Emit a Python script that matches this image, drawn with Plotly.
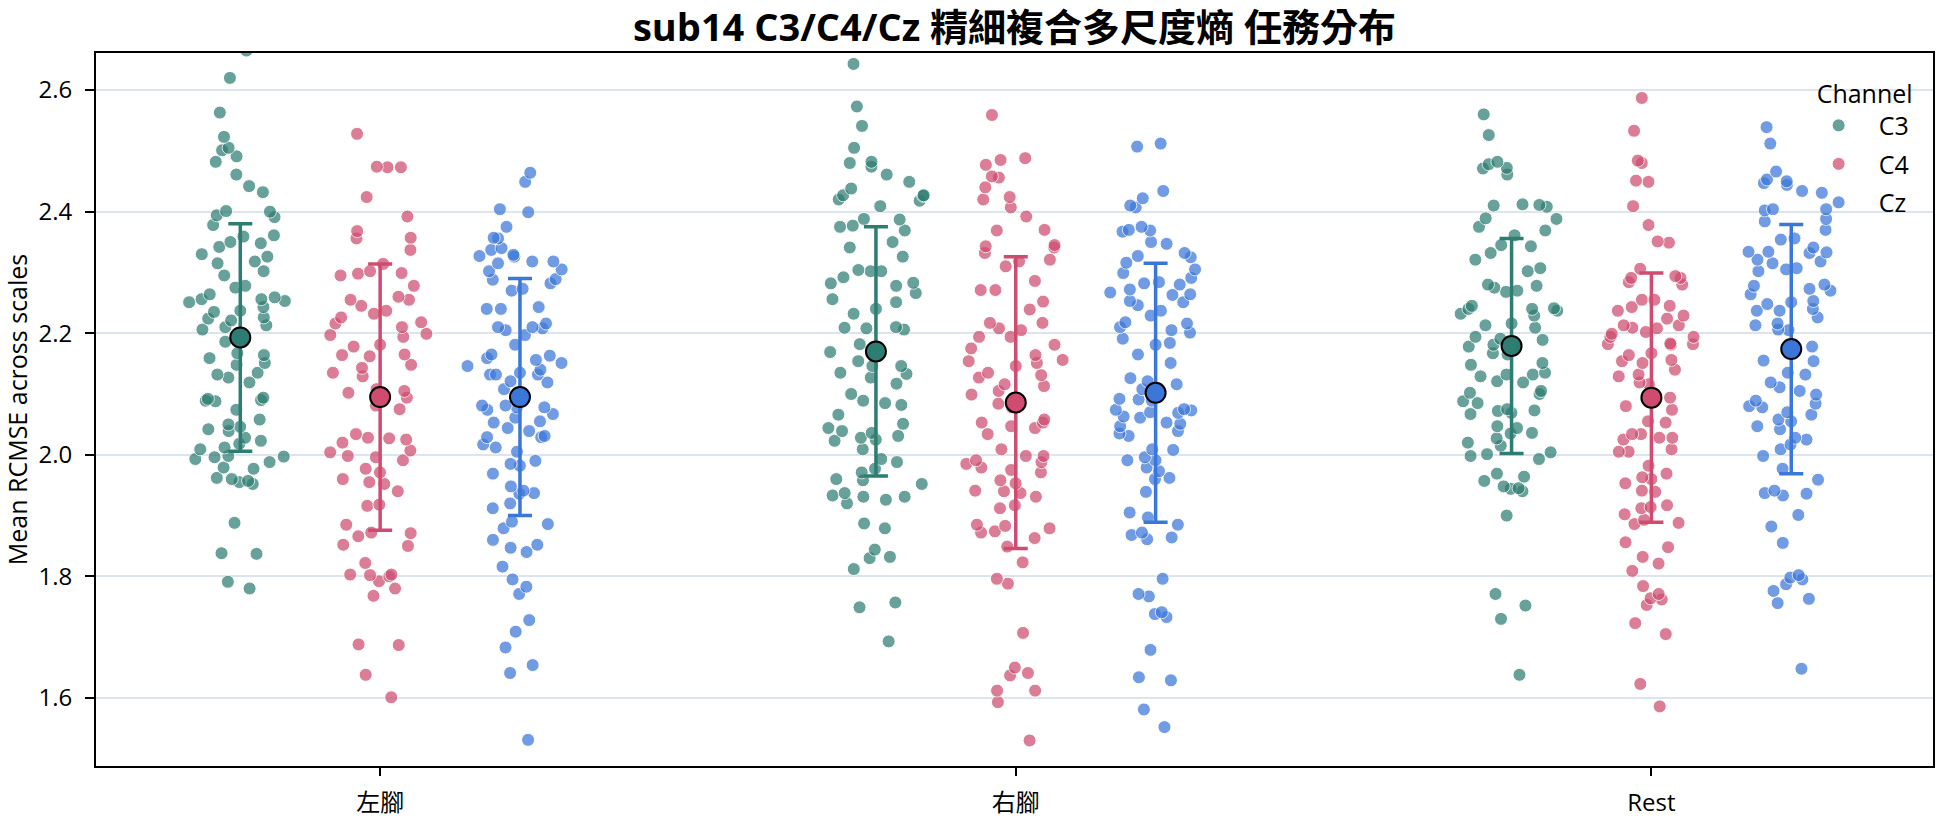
import plotly.graph_objects as go

# ---------------- data ----------------
tasks = ["左腳", "右腳", "Rest"]
channels = ["C3", "C4", "Cz"]

left_c3 = [2.665, 2.620, 2.563, 2.523, 2.505, 2.501, 2.491, 2.482, 2.461, 2.442, 2.432, 2.401, 2.400, 2.394,
           2.391, 2.378, 2.361, 2.359, 2.350, 2.348, 2.342, 2.330, 2.326, 2.318, 2.315, 2.302, 2.295, 2.278,
           2.275, 2.264, 2.259, 2.256, 2.256, 2.253, 2.251, 2.243, 2.237, 2.235, 2.226, 2.224, 2.221, 2.213,
           2.210, 2.206, 2.186, 2.167, 2.164, 2.159, 2.151, 2.148, 2.135, 2.132, 2.127, 2.119, 2.094, 2.092,
           2.090, 2.089, 2.088, 2.074, 2.058, 2.050, 2.046, 2.042, 2.039, 2.028, 2.023, 2.018, 2.012, 2.009,
           1.998, 1.997, 1.996, 1.993, 1.988, 1.979, 1.977, 1.962, 1.960, 1.957, 1.955, 1.952, 1.888, 1.838,
           1.837, 1.791, 1.780]
left_c4 = [2.528, 2.473, 2.474, 2.473, 2.424, 2.392, 2.368, 2.357, 2.356, 2.337, 2.314, 2.302, 2.299, 2.298,
           2.295, 2.278, 2.260, 2.255, 2.255, 2.245, 2.237, 2.232, 2.226, 2.218, 2.216, 2.210, 2.199, 2.197,
           2.194, 2.181, 2.178, 2.165, 2.164, 2.162, 2.148, 2.143, 2.135, 2.129, 2.108, 2.105, 2.102, 2.094,
           2.081, 2.075, 2.034, 2.028, 2.027, 2.025, 2.020, 2.007, 2.004, 1.998, 1.996, 1.991, 1.977, 1.971,
           1.960, 1.955, 1.952, 1.940, 1.918, 1.916, 1.885, 1.872, 1.871, 1.866, 1.852, 1.850, 1.822, 1.803,
           1.803, 1.802, 1.800, 1.792, 1.780, 1.768, 1.688, 1.687, 1.638, 1.601]
left_cz = [2.464, 2.449, 2.404, 2.399, 2.375, 2.357, 2.356, 2.340, 2.337, 2.329, 2.327, 2.326, 2.318, 2.318,
           2.315, 2.305, 2.302, 2.289, 2.288, 2.282, 2.273, 2.270, 2.243, 2.240, 2.240, 2.216, 2.210, 2.210,
           2.208, 2.205, 2.197, 2.181, 2.165, 2.163, 2.159, 2.156, 2.151, 2.146, 2.140, 2.135, 2.132, 2.132,
           2.132, 2.121, 2.119, 2.108, 2.081, 2.078, 2.081, 2.078, 2.074, 2.067, 2.061, 2.055, 2.053, 2.044,
           2.039, 2.031, 2.029, 2.029, 2.017, 2.012, 2.005, 1.990, 1.985, 1.982, 1.969, 1.948, 1.941, 1.936,
           1.937, 1.920, 1.912, 1.890, 1.886, 1.879, 1.860, 1.852, 1.847, 1.840, 1.816, 1.795, 1.783, 1.771,
           1.728, 1.709, 1.683, 1.654, 1.641, 1.531]

right_c3 = [2.643, 2.573, 2.541, 2.505, 2.482, 2.480, 2.474, 2.461, 2.449, 2.438, 2.427, 2.427, 2.426, 2.420,
            2.418, 2.409, 2.388, 2.387, 2.377, 2.375, 2.369, 2.350, 2.341, 2.326, 2.304, 2.302, 2.302, 2.292,
            2.283, 2.282, 2.278, 2.266, 2.256, 2.251, 2.240, 2.232, 2.210, 2.209, 2.208, 2.206, 2.182, 2.169,
            2.154, 2.146, 2.146, 2.135, 2.133, 2.127, 2.117, 2.100, 2.089, 2.085, 2.082, 2.066, 2.051, 2.044,
            2.039, 2.036, 2.031, 2.028, 2.025, 2.023, 2.009, 1.993, 1.988, 1.977, 1.971, 1.960, 1.958, 1.952,
            1.937, 1.933, 1.931, 1.931, 1.926, 1.920, 1.887, 1.879, 1.844, 1.832, 1.830, 1.812, 1.757, 1.749,
            1.693]
right_c4 = [2.559, 2.488, 2.485, 2.477, 2.458, 2.456, 2.440, 2.424, 2.420, 2.407, 2.392, 2.370, 2.369, 2.345,
            2.343, 2.341, 2.332, 2.321, 2.318, 2.310, 2.286, 2.271, 2.271, 2.252, 2.239, 2.217, 2.217, 2.208,
            2.205, 2.194, 2.194, 2.181, 2.175, 2.164, 2.156, 2.154, 2.151, 2.146, 2.135, 2.131, 2.127, 2.116,
            2.113, 2.105, 2.099, 2.084, 2.078, 2.058, 2.053, 2.053, 2.047, 2.044, 2.034, 2.009, 1.998, 1.998,
            1.991, 1.988, 1.985, 1.979, 1.975, 1.971, 1.958, 1.953, 1.941, 1.940, 1.937, 1.931, 1.917, 1.912,
            1.885, 1.883, 1.879, 1.874, 1.872, 1.863, 1.849, 1.823, 1.796, 1.788, 1.707, 1.650, 1.641, 1.637,
            1.612, 1.612, 1.593, 1.530]
right_cz = [2.512, 2.507, 2.434, 2.422, 2.410, 2.407, 2.375, 2.370, 2.369, 2.367, 2.350, 2.347, 2.332, 2.327,
            2.325, 2.316, 2.305, 2.299, 2.291, 2.284, 2.282, 2.280, 2.272, 2.267, 2.264, 2.263, 2.253, 2.251,
            2.246, 2.237, 2.229, 2.218, 2.216, 2.210, 2.205, 2.201, 2.191, 2.184, 2.181, 2.165, 2.151, 2.126,
            2.121, 2.116, 2.108, 2.092, 2.091, 2.089, 2.075, 2.074, 2.073, 2.070, 2.069, 2.063, 2.061, 2.053,
            2.051, 2.047, 2.039, 2.035, 2.031, 2.009, 2.008, 1.996, 1.991, 1.991, 1.979, 1.973, 1.962, 1.960,
            1.939, 1.905, 1.897, 1.885, 1.872, 1.868, 1.864, 1.861, 1.796, 1.771, 1.767, 1.741, 1.738, 1.733,
            1.679, 1.634, 1.629, 1.581, 1.552]

rest_c3 = [2.560, 2.526, 2.482, 2.478, 2.472, 2.471, 2.461, 2.412, 2.411, 2.410, 2.408, 2.389, 2.388, 2.375,
           2.369, 2.361, 2.345, 2.343, 2.332, 2.321, 2.307, 2.302, 2.280, 2.278, 2.275, 2.270, 2.268, 2.245,
           2.241, 2.240, 2.240, 2.237, 2.232, 2.229, 2.216, 2.213, 2.209, 2.194, 2.191, 2.189, 2.181, 2.178,
           2.167, 2.165, 2.151, 2.148, 2.135, 2.132, 2.132, 2.129, 2.121, 2.119, 2.105, 2.102, 2.100, 2.088,
           2.085, 2.075, 2.073, 2.072, 2.069, 2.067, 2.047, 2.044, 2.036, 2.035, 2.027, 2.020, 2.015, 2.004,
           2.001, 1.998, 1.993, 1.969, 1.964, 1.957, 1.948, 1.945, 1.944, 1.940, 1.900, 1.771, 1.752, 1.730,
           1.638]
rest_c4 = [2.587, 2.533, 2.484, 2.480, 2.451, 2.449, 2.409, 2.378, 2.351, 2.349, 2.306, 2.294, 2.291, 2.291,
           2.284, 2.280, 2.255, 2.255, 2.245, 2.243, 2.237, 2.229, 2.224, 2.213, 2.213, 2.209, 2.208, 2.202,
           2.199, 2.194, 2.194, 2.183, 2.182, 2.182, 2.181, 2.167, 2.164, 2.156, 2.154, 2.151, 2.140, 2.132,
           2.129, 2.119, 2.116, 2.094, 2.080, 2.074, 2.055, 2.053, 2.034, 2.034, 2.028, 2.028, 2.025, 2.009,
           2.005, 2.005, 1.982, 1.969, 1.963, 1.960, 1.953, 1.941, 1.939, 1.917, 1.914, 1.912, 1.902, 1.893,
           1.888, 1.886, 1.856, 1.848, 1.832, 1.821, 1.809, 1.784, 1.771, 1.764, 1.762, 1.753, 1.723, 1.705,
           1.623, 1.586]
rest_cz = [2.539, 2.512, 2.466, 2.453, 2.450, 2.447, 2.444, 2.434, 2.431, 2.404, 2.404, 2.402, 2.388, 2.384,
           2.370, 2.356, 2.354, 2.341, 2.334, 2.334, 2.333, 2.332, 2.321, 2.318, 2.315, 2.307, 2.305, 2.302,
           2.280, 2.278, 2.273, 2.270, 2.264, 2.253, 2.251, 2.248, 2.240, 2.237, 2.237, 2.226, 2.216, 2.213,
           2.206, 2.205, 2.178, 2.155, 2.154, 2.135, 2.132, 2.119, 2.111, 2.105, 2.099, 2.089, 2.084, 2.080,
           2.078, 2.070, 2.066, 2.058, 2.055, 2.047, 2.042, 2.028, 2.025, 2.017, 2.009, 1.998, 1.977, 1.959,
           1.941, 1.937, 1.936, 1.933, 1.901, 1.882, 1.855, 1.802, 1.798, 1.795, 1.787, 1.776, 1.763, 1.756,
           1.648]

mean_c3 = [2.193, 2.170, 2.179]
mean_c4 = [2.095, 2.086, 2.094]
mean_cz = [2.095, 2.102, 2.174]
sd_c3 = [0.187, 0.205, 0.177]
sd_c4 = [0.219, 0.240, 0.205]
sd_cz = [0.195, 0.213, 0.205]

yticks = [1.6, 1.8, 2.0, 2.2, 2.4, 2.6]

# ---------------- figure ----------------
points = {
    "C3": [left_c3, right_c3, rest_c3],
    "C4": [left_c4, right_c4, rest_c4],
    "Cz": [left_cz, right_cz, rest_cz],
}
means = {"C3": mean_c3, "C4": mean_c4, "Cz": mean_cz}
sds = {"C3": sd_c3, "C4": sd_c4, "Cz": sd_cz}
colors = {"C3": "#2E7D72", "C4": "#CF4C70", "Cz": "#3B77D9"}
dodge = {"C3": -0.22, "C4": 0.0, "Cz": 0.22}

FONT = "Open Sans, Noto Sans CJK TC, sans-serif"
fig = go.Figure()

for ch in channels:
    for ti, task in enumerate(tasks):
        fig.add_trace(go.Box(
            y=points[ch][ti], x0=ti + dodge[ch], width=0.17,
            boxpoints="all", jitter=1.0, pointpos=0,
            fillcolor="rgba(0,0,0,0)", line=dict(width=0, color="rgba(0,0,0,0)"),
            whiskerwidth=0,
            marker=dict(size=13, color=colors[ch], opacity=0.72,
                        line=dict(color="white", width=1)),
            hoveron="points", showlegend=False, name=ch,
        ))

for ch in channels:
    fig.add_trace(go.Scatter(
        x=[ti + dodge[ch] for ti in range(len(tasks))], y=means[ch],
        mode="markers",
        marker=dict(size=20, color=colors[ch], line=dict(color="black", width=2)),
        error_y=dict(type="data", array=sds[ch], color=colors[ch], thickness=3.5, width=12),
        showlegend=False, name=ch,
    ))

for ch in channels:
    fig.add_trace(go.Scatter(
        x=[None], y=[None], mode="markers", name=ch, legendgroup=ch,
        marker=dict(size=13, color=colors[ch], opacity=0.72, line=dict(color="white", width=1)),
    ))

fig.update_layout(
    width=1944, height=827,
    margin=dict(l=96, r=9, t=53, b=52),
    paper_bgcolor="white", plot_bgcolor="white",
    font=dict(family=FONT, size=24, color="black"),
    title=dict(text="sub14 C3/C4/Cz 精細複合多尺度熵 任務分布",
               font=dict(family=FONT, size=38, color="black", weight=700),
               x=0.5, xref="paper", xanchor="center",
               y=1 - 28 / 827, yref="container", yanchor="middle"),
    legend=dict(
        title=dict(text="Channel", side="top right", font=dict(size=25)),
        x=0.99, xanchor="right", y=0.976, yanchor="top",
        bgcolor="rgba(255,255,255,0)", borderwidth=0,
        font=dict(size=25), itemwidth=70, tracegroupgap=3,
    ),
    showlegend=True,
)

fig.update_xaxes(
    type="linear", range=[-0.447, 2.443],
    tickmode="array", tickvals=list(range(len(tasks))), ticktext=tasks,
    showgrid=False, zeroline=False,
    showline=True, linecolor="black", linewidth=2, mirror=True,
    ticks="outside", ticklen=8, tickwidth=2, tickcolor="black",
    ticklabelstandoff=6,
)
fig.update_yaxes(
    range=[1.488, 2.661],
    tickmode="array", tickvals=yticks, ticktext=[f"{v:.1f}" for v in yticks],
    showgrid=True, gridcolor="#DCE5EE", gridwidth=2, zeroline=False,
    showline=True, linecolor="black", linewidth=2, mirror=True,
    ticks="outside", ticklen=9, tickwidth=2, tickcolor="black",
    ticklabelstandoff=8,
    title=dict(text="Mean RCMSE across scales", font=dict(size=25), standoff=11),
)

fig.write_html("out.html")
